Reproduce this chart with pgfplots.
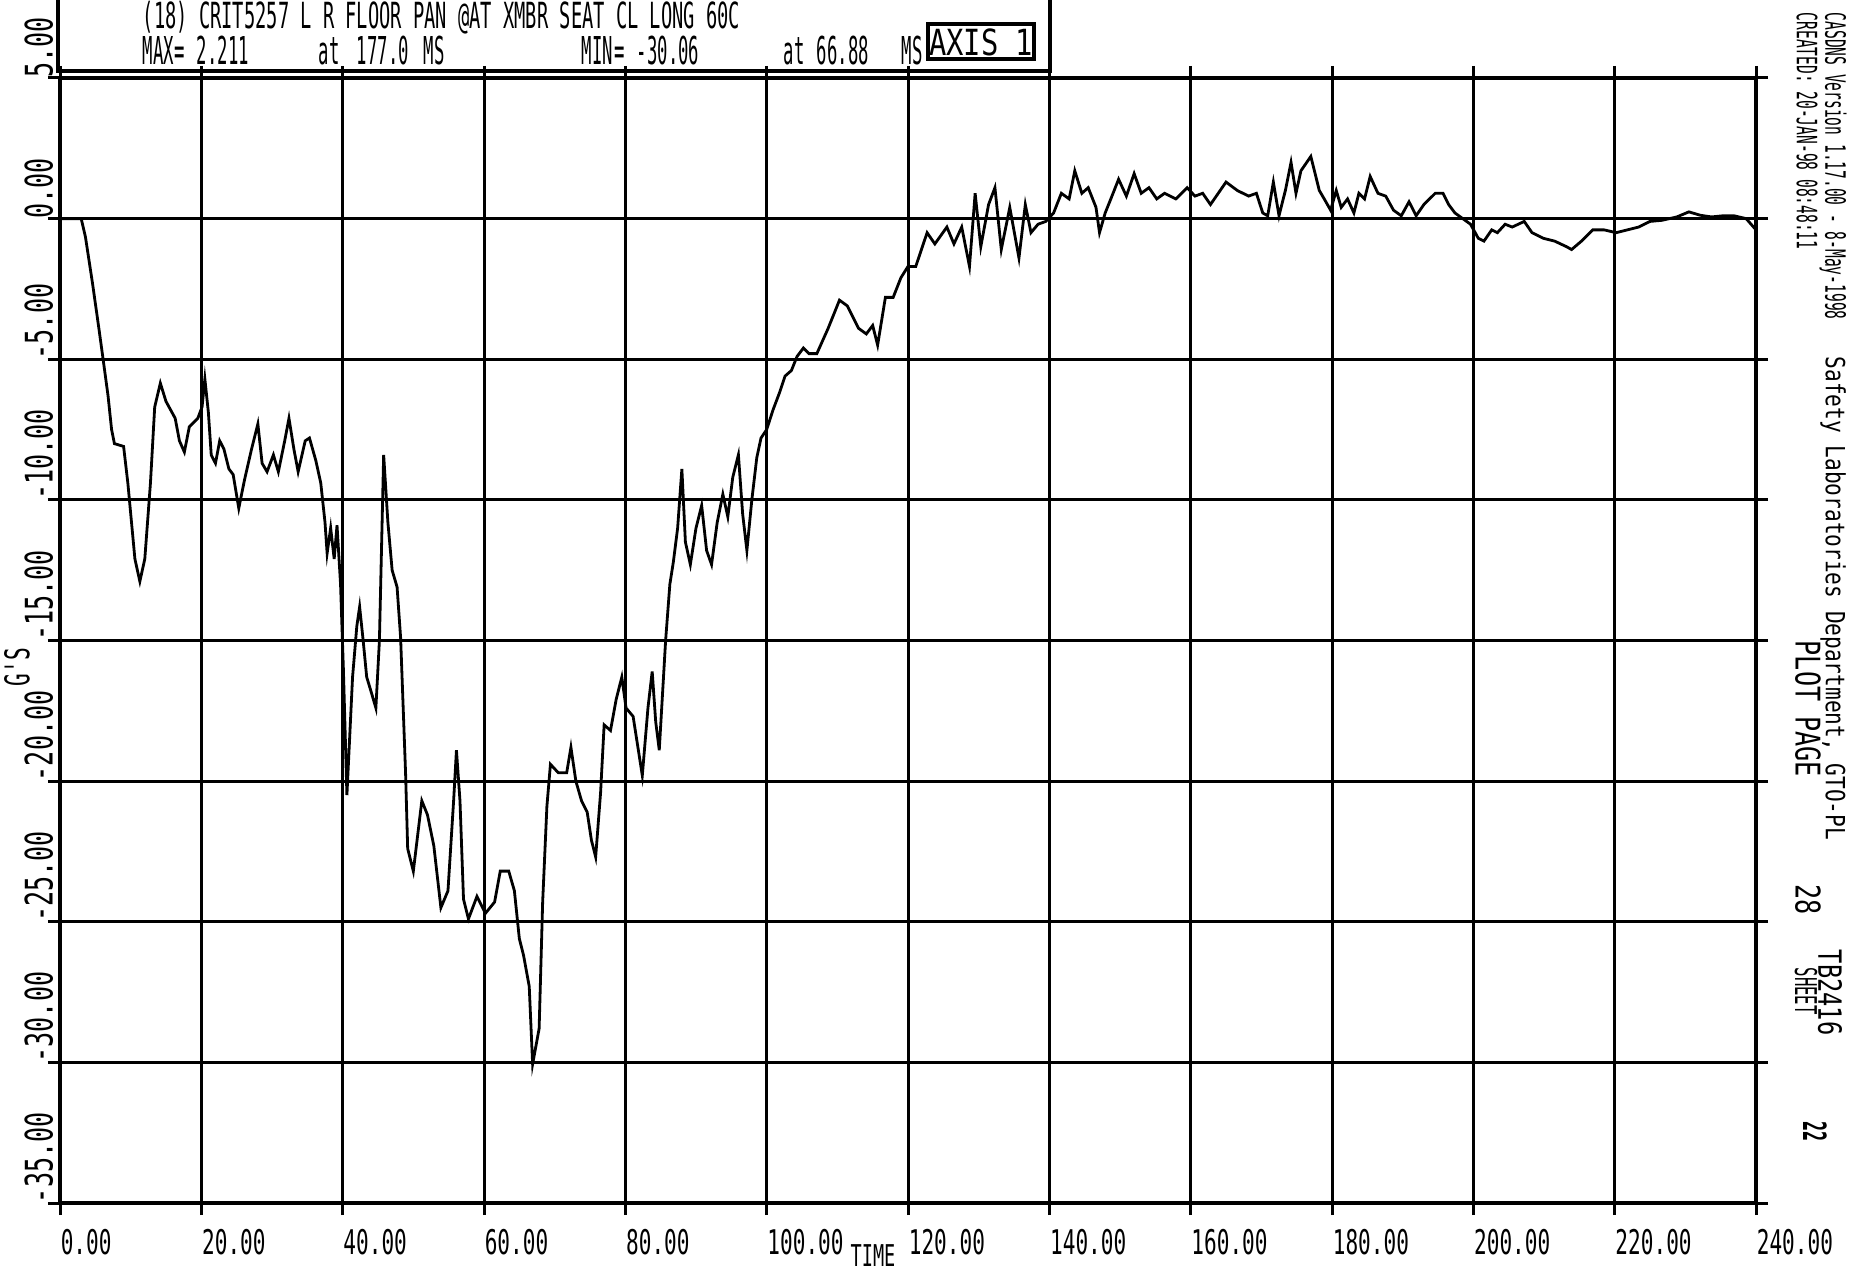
\documentclass[border=0pt]{standalone}
\usepackage{fontspec}
\usepackage{pgfplots}
\pgfplotsset{compat=1.18}
\newfontfamily\plotfont[FakeStretch=0.8]{DejaVu Sans Mono}
\newfontfamily\tickfont[FakeStretch=0.62]{DejaVu Sans Mono}
\newfontfamily\ytickfont[FakeStretch=0.66]{DejaVu Sans Mono}
\newfontfamily\narrowfont[FakeStretch=0.52]{DejaVu Sans Mono}
\newfontfamily\thinfont[FakeStretch=0.45]{DejaVu Sans Mono}
\newfontfamily\monofont[FakeStretch=0.74]{DejaVu Sans Mono}

\pgfplotstableread{
t v
0 0
3.0 0
3.6 -0.65
4.6 -2.3
5.5 -3.9
6.1 -5.0
6.8 -6.3
7.3 -7.5
7.7 -8.0
9.0 -8.1
9.6 -9.4
10.6 -12.1
11.3 -12.9
12.0 -12.1
12.8 -9.4
13.4 -6.7
14.2 -5.85
15.0 -6.5
16.3 -7.1
16.9 -7.9
17.6 -8.3
18.3 -7.4
19.5 -7.1
20.1 -6.7
20.5 -5.7
21.0 -6.9
21.4 -8.4
22.0 -8.7
22.6 -7.9
23.2 -8.2
23.9 -8.9
24.5 -9.1
25.3 -10.3
26.1 -9.3
27.1 -8.2
28.0 -7.3
28.6 -8.7
29.3 -9.0
30.2 -8.4
30.9 -9.0
31.8 -7.9
32.4 -7.1
33.1 -8.2
33.7 -9.0
34.7 -7.9
35.3 -7.8
36.2 -8.6
36.9 -9.4
37.5 -10.8
37.8 -11.9
38.3 -11.0
38.8 -12.1
39.2 -10.9
39.7 -13.0
40.1 -16.0
40.6 -20.5
41.4 -16.3
42.0 -14.5
42.4 -13.8
42.9 -15.0
43.4 -16.3
44.0 -16.8
44.7 -17.4
45.2 -15.0
45.8 -8.4
46.4 -10.8
47.0 -12.5
47.7 -13.1
48.2 -14.9
48.9 -19.7
49.2 -22.4
50.0 -23.2
51.2 -20.7
52.0 -21.2
52.9 -22.3
53.9 -24.5
54.9 -23.9
55.7 -20.7
56.1 -18.9
56.6 -20.7
57.1 -24.2
57.8 -24.9
59.0 -24.1
60.2 -24.7
61.5 -24.3
62.3 -23.2
63.5 -23.2
64.3 -23.9
65.0 -25.6
65.6 -26.2
66.4 -27.3
66.88 -30.06
67.8 -28.8
68.3 -24.3
68.9 -20.9
69.4 -19.4
70.5 -19.7
71.7 -19.7
72.3 -18.8
73.0 -20.0
73.8 -20.7
74.6 -21.1
75.2 -22.1
75.8 -22.7
76.5 -20.4
77.0 -18.0
77.9 -18.2
78.7 -17.1
79.5 -16.3
80.1 -17.4
81.1 -17.7
82.4 -19.8
83.2 -17.4
83.8 -16.1
84.3 -17.9
84.8 -18.9
85.7 -15.0
86.3 -13.0
86.8 -12.2
87.4 -11.0
88.0 -8.9
88.5 -11.5
89.2 -12.3
90.0 -11.0
90.8 -10.2
91.5 -11.8
92.2 -12.3
93.0 -10.8
93.8 -9.8
94.5 -10.6
95.2 -9.2
96.0 -8.4
96.6 -10.5
97.2 -11.8
97.9 -10.0
98.6 -8.5
99.2 -7.8
100.0 -7.5
100.9 -6.8
101.8 -6.2
102.6 -5.6
103.5 -5.4
104.3 -4.9
105.2 -4.6
106.0 -4.8
107.1 -4.8
108.7 -3.9
110.3 -2.9
111.4 -3.1
113.0 -3.9
114.1 -4.1
115.0 -3.8
115.7 -4.5
116.8 -2.8
117.9 -2.8
119.0 -2.1
120.0 -1.7
121.1 -1.7
122.7 -0.5
123.8 -0.9
125.5 -0.3
126.5 -0.9
127.6 -0.3
128.7 -1.7
129.5 0.9
130.3 -1.0
131.4 0.5
132.3 1.1
133.2 -1.1
134.4 0.4
135.7 -1.4
136.6 0.5
137.4 -0.5
138.4 -0.2
139.5 -0.1
140.6 0.2
141.7 0.9
142.8 0.7
143.6 1.7
144.6 0.9
145.5 1.1
146.6 0.4
147.1 -0.5
147.9 0.2
148.7 0.7
149.8 1.4
150.9 0.8
152.0 1.6
153.0 0.9
154.1 1.1
155.2 0.7
156.3 0.9
157.9 0.7
159.5 1.1
160.6 0.8
161.7 0.9
162.8 0.5
163.9 0.9
165.0 1.3
166.6 1.0
168.2 0.8
169.3 0.9
170.2 0.2
170.9 0.1
171.7 1.3
172.5 0.1
173.4 1.0
174.2 2.0
174.9 0.9
175.6 1.7
177.0 2.211
178.2 1.0
178.9 0.7
179.8 0.3
180.6 1.0
181.3 0.4
182.2 0.7
183.1 0.2
183.8 0.9
184.6 0.7
185.4 1.5
186.5 0.9
187.6 0.8
188.7 0.3
189.8 0.1
190.9 0.6
191.9 0.1
193.0 0.5
194.6 0.9
195.7 0.9
196.5 0.5
197.4 0.2
198.5 0.0
199.6 -0.2
200.7 -0.7
201.5 -0.8
202.6 -0.4
203.4 -0.5
204.5 -0.2
205.5 -0.3
207.2 -0.1
208.3 -0.5
209.9 -0.7
211.5 -0.8
213.2 -1.0
213.9 -1.1
215.3 -0.8
216.9 -0.4
218.5 -0.4
220.2 -0.5
221.8 -0.4
223.4 -0.3
225.0 -0.1
226.7 -0.06
228.8 0.06
230.5 0.24
232.1 0.12
233.7 0.06
235.3 0.1
236.9 0.1
238.6 0.0
240.0 -0.4
}\gsdata

\begin{document}
\begin{tikzpicture}
\begin{axis}[
    at={(0,0)}, anchor=south west,
    scale only axis,
    width=424pt, height=281.25pt,
    xmin=0, xmax=240, ymin=-35, ymax=5,
    xtick={0,20,40,60,80,100,120,140,160,180,200,220,240},
    xticklabels={0.00,20.00,40.00,60.00,80.00,100.00,120.00,140.00,160.00,180.00,200.00,220.00,240.00},
    ytick={-35,-30,-25,-20,-15,-10,-5,0,5},
    yticklabels={-35.00,-30.00,-25.00,-20.00,-15.00,-10.00,-5.00,0.00,5.00},
    grid=major,
    major grid style={black, line width=0.75pt},
    axis line style={black, line width=0.9pt},
    tick align=outside,
    major tick length=3pt,
    tick style={black, line width=0.75pt},
    xticklabel style={font=\tickfont\fontsize{8.5}{8.5}\selectfont, anchor=north west, inner sep=0pt, xshift=0pt, yshift=-3.3pt},
    yticklabel style={font=\ytickfont\fontsize{9.5}{9.5}\selectfont, rotate=90, anchor=south west, inner sep=0pt, xshift=-0.2pt, yshift=-1.5pt},
]
\addplot[black, line width=0.7pt] table[x=t, y=v] {\gsdata};
\end{axis}

% texts placed in image pixel coordinates
\begin{scope}[x=0.25pt, y=-0.25pt, shift={(-15pt,300.75pt)}]
  \draw[line width=0.9pt] (58,-20) rectangle (1050,71);
  \node[anchor=base west, inner sep=0, font=\narrowfont\fontsize{9}{9}\selectfont]
    at (142,29) {(18) CRIT5257 L R FLOOR PAN @AT XMBR SEAT CL LONG 60C};
  \begin{scope}[every node/.style={anchor=base west, inner sep=0, font=\thinfont\fontsize{9.6}{10}\selectfont}]
    \node at (142,65) {MAX};
    \node at (174,65) {=};
    \node at (196,65) {2.211};
    \node at (318,65) {at};
    \node at (356,65) {177.0};
    \node at (423,65) {MS};
    \node at (581,65) {MIN};
    \node at (614,65) {=};
    \node at (636,65) {-30.06};
    \node at (783,65) {at};
    \node at (816,65) {66.88};
    \node at (901,65) {MS};
  \end{scope}
  \draw[line width=0.9pt] (928,24) rectangle (1034,59);
  \node[font=\plotfont\fontsize{9}{9}\selectfont, inner sep=0] at (981,42) {AXIS 1};

  \node[rotate=90, font=\tickfont\fontsize{8.5}{8.5}\selectfont, inner sep=0] at (17,667) {G'S};
  \node[font=\tickfont\fontsize{7.5}{7.5}\selectfont, inner sep=0] at (873,1256) {TIME};

  \begin{scope}[every node/.style={rotate=-90, anchor=west, inner sep=0}]
    \node[font=\narrowfont\fontsize{7}{7}\selectfont] at (1833,12) {CASDNS Version 1.17.00 - 8-May-1998};
    \node[font=\plotfont\fontsize{6.6}{7}\selectfont] at (1833,356) {Safety Laboratories Department, GTO-PL};
    \node[font=\narrowfont\fontsize{7}{7}\selectfont] at (1807,12) {CREATED: 20-JAN-98 08:48:11};
    \node[font=\monofont\fontsize{8.5}{8.5}\selectfont] at (1808,640) {PLOT PAGE};
    \node[font=\monofont\fontsize{8.5}{8.5}\selectfont] at (1808,884) {28};
    \node[font=\monofont\fontsize{8}{8}\selectfont] at (1830,949) {TB2416};
    \node[font=\narrowfont\fontsize{7.5}{7.5}\selectfont] at (1806,967) {SHEET};
    \node[font=\narrowfont\bfseries\fontsize{8}{8}\selectfont] at (1815,1121) {22};
  \end{scope}
\end{scope}

\pgfresetboundingbox
\useasboundingbox (-15pt,-17.5pt) rectangle (450pt,300.75pt);
\end{tikzpicture}
\end{document}
